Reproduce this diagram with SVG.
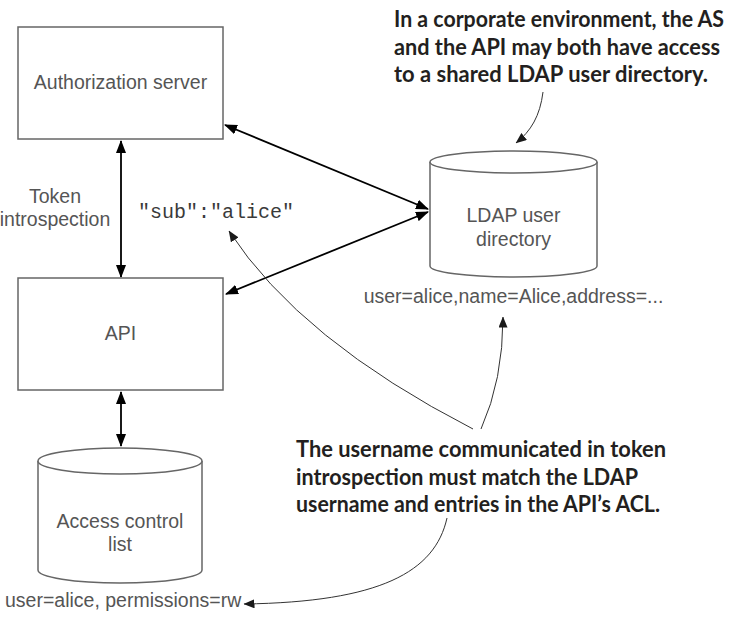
<svg xmlns="http://www.w3.org/2000/svg" width="744" height="622" viewBox="0 0 744 622">
<style>
.box{fill:#fff;stroke:#666;stroke-width:1.5}
.lbl{font-family:"Liberation Sans",Arial,sans-serif;font-size:19.5px;fill:#555;text-anchor:middle}
.mono{font-family:"Liberation Mono","Courier New",monospace;font-size:20px;fill:#3a3a3a}
.note{font-family:Lato,"Open Sans",sans-serif;font-weight:bold;font-size:22px;fill:#231f20}
.conn{fill:none;stroke:#000;stroke-width:1.8}
.ann{fill:none;stroke:#333;stroke-width:1}
</style>
<defs>
<marker id="ah" viewBox="0 0 13 10" refX="12" refY="5" markerWidth="13" markerHeight="10" markerUnits="userSpaceOnUse" orient="auto-start-reverse"><path d="M0,0 L13,5 L0,10 z" fill="#000"/></marker>
<marker id="ahs" viewBox="0 0 11 9" refX="10.5" refY="4.5" markerWidth="11" markerHeight="9" markerUnits="userSpaceOnUse" orient="auto"><path d="M0,0 L11,4.5 L0,9 z" fill="#1a1a1a"/></marker>
</defs>

<g id="connectors">
<line class="conn" x1="121" y1="141" x2="121" y2="277" marker-start="url(#ah)" marker-end="url(#ah)"/>
<line class="conn" x1="121" y1="392" x2="121" y2="446" marker-start="url(#ah)" marker-end="url(#ah)"/>
<line class="conn" x1="225" y1="125" x2="428" y2="209" marker-start="url(#ah)" marker-end="url(#ah)"/>
<line class="conn" x1="226" y1="294" x2="428" y2="212" marker-start="url(#ah)" marker-end="url(#ah)"/>
<path class="ann" d="M543,92 C540,116 531,131 516,143" marker-end="url(#ahs)"/>
<path class="ann" d="M473,429 Q300,340 229,231" marker-end="url(#ahs)"/>
<path class="ann" d="M481,429 Q503,380 503,317" marker-end="url(#ahs)"/>
<path class="ann" d="M447,518 C435,572 380,602 244,604" marker-end="url(#ahs)"/>
</g>

<g id="auth-server">
<rect class="box" x="18" y="27" width="205" height="112"/>
<text class="lbl" x="120.5" y="89">Authorization server</text>
</g>

<g id="api">
<rect class="box" x="18" y="278" width="205" height="112"/>
<text class="lbl" x="120.5" y="340">API</text>
</g>

<g id="ldap">
<path class="box" d="M430,162 L430,266 A83.5,11 0 0 0 597,266 L597,162"/>
<ellipse class="box" cx="513.5" cy="162" rx="83.5" ry="11"/>
<text class="lbl" x="513.5" y="222">LDAP user</text>
<text class="lbl" x="513.5" y="246">directory</text>
</g>

<g id="acl">
<path class="box" d="M38,461 L38,570 A82,13 0 0 0 202,570 L202,461"/>
<ellipse class="box" cx="120" cy="461" rx="82" ry="13"/>
<text class="lbl" x="120" y="528">Access control</text>
<text class="lbl" x="120" y="551">list</text>
</g>

<g id="labels">
<text class="lbl" x="55" y="203">Token</text>
<text class="lbl" x="55" y="226">introspection</text>
<text class="mono" x="138" y="218">"sub":"alice"</text>
<text class="lbl" x="513.5" y="303">user=alice,name=Alice,address=...</text>
<text class="lbl" x="5" y="607" style="text-anchor:start">user=alice, permissions=rw</text>
</g>

<g id="note-top">
<text class="note" x="394" y="27" textLength="330" lengthAdjust="spacingAndGlyphs">In a corporate environment, the AS</text>
<text class="note" x="394" y="55" textLength="326" lengthAdjust="spacingAndGlyphs">and the API may both have access</text>
<text class="note" x="394" y="82" textLength="314" lengthAdjust="spacingAndGlyphs">to a shared LDAP user directory.</text>
</g>

<g id="note-bottom">
<text class="note" x="296" y="457" textLength="370" lengthAdjust="spacingAndGlyphs">The username communicated in token</text>
<text class="note" x="296" y="485" textLength="342" lengthAdjust="spacingAndGlyphs">introspection must match the LDAP</text>
<text class="note" x="296" y="512" textLength="364" lengthAdjust="spacingAndGlyphs">username and entries in the API’s ACL.</text>
</g>
</svg>
